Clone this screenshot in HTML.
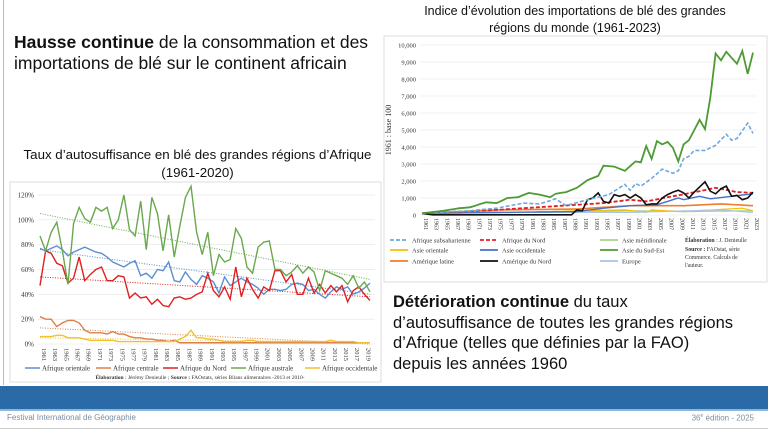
<!DOCTYPE html>
<html><head><meta charset="utf-8"><style>
body{margin:0;width:768px;height:431px;background:#fff;overflow:hidden;font-family:"Liberation Sans",sans-serif;position:relative}
.t{position:absolute;color:#111}
</style></head><body>
<div style="position:absolute;left:3px;top:0;width:1px;height:385px;background:#bbb"></div>
<div class="t" style="left:14px;top:32px;font-size:17.5px;line-height:20.5px">
<b>Hausse continue</b> de la consommation et des<br>importations de blé sur le continent africain</div>
<div class="t" style="left:10px;top:146px;width:375px;text-align:center;font-size:13.3px;line-height:18px">Taux d’autosuffisance en blé des grandes régions d’Afrique<br>(1961-2020)</div>
<div class="t" style="left:385px;top:3px;width:380px;text-align:center;font-size:12.5px;line-height:17px">Indice d’évolution des importations de blé des grandes<br>régions du monde (1961-2023)</div>
<div class="t" style="left:393px;top:292px;font-size:16.5px;line-height:20.7px"><b>Détérioration continue</b> du taux<br>d’autosuffisance de toutes les grandes régions<br>d’Afrique (telles que définies par la FAO)<br>depuis les années 1960</div>
<div style="position:absolute;left:0;top:386px;width:768px;height:23px;background:#2a6aa6;border-bottom:2px solid #8fb6d8"></div>
<div class="t" style="left:7px;top:413px;font-size:8px;color:#7a8ea4">Festival International de Géographie</div>
<div class="t" style="right:14px;top:413px;font-size:8px;color:#7a8ea4">36<sup style="font-size:5px">e</sup> édition - 2025</div>
<div style="position:absolute;left:0;top:428px;width:768px;height:1px;background:#ccc"></div>
<svg id="s" width="768" height="431" style="position:absolute;left:0;top:0" font-family="Liberation Serif, serif"></svg>
<script>
const s=document.getElementById('s');let h='';
h+='<rect x="10" y="182" width="371" height="200" fill="#fff" stroke="#ddd"/>';
const Y=v=>344-v*1.242, X=i=>40+i*(330/59);
for(let v=0;v<=120;v+=20){h+=`<line x1="38" x2="375" y1="${Y(v)}" y2="${Y(v)}" stroke="#e4e4e4" stroke-width="0.6"/><text x="34" y="${Y(v)+2.5}" font-size="7" text-anchor="end" fill="#333">${v}%</text>`}
for(let i=0;i<60;i+=2){h+=`<text transform="translate(${X(i)+2},348) rotate(90)" font-size="6.5" fill="#333">${1961+i}</text>`}
const L={
g:[87,75,90,98,75,48,97,110,101,98,110,107,110,93,100,120,92,87,115,76,118,105,75,104,70,95,118,127,90,72,90,55,72,66,68,93,85,62,57,78,82,83,60,60,55,58,63,57,62,58,43,59,57,55,53,48,55,45,50,42,55],
b:[77,75,77,79,76,71,74,76,78,76,74,73,70,66,64,62,65,67,55,57,53,60,59,66,51,50,58,52,48,55,53,50,41,54,47,50,53,50,48,45,40,44,44,43,44,48,49,48,43,44,40,37,42,46,44,46,40,42,45,49],
r:[47,75,73,65,63,49,53,70,51,56,60,62,51,51,55,54,37,41,37,38,32,36,31,30,37,38,36,37,40,42,57,43,38,46,36,62,38,53,44,37,46,43,59,59,50,56,40,40,53,41,48,41,47,42,47,34,43,46,40,35],
o:[22,20,20,14,17,19,19,17,11,9,9,9,8,10,8,8,6,5,5,4,4,3,3,2,3,1,1,1,1,1,1,1,1,1,1,1,1,1,1,1,1,1,1,1,1,1,1,1,1,1,1,1,1,1,1,1,1,1,1,1],
y:[6,6,6,7,7,5,5,5,4,3,3,3,3,3,2,2,2,2,2,2,2,2,2,2,2,4,6,11,5,5,4,4,3,2,2,2,2,3,3,2,2,2,2,2,2,2,2,2,2,2,2,2,3,2,2,2,2,1,1,1]};
const C={g:'#6aa84f',b:'#5b8fd0',r:'#e02020',o:'#d9804a',y:'#f2c12e'};
const tr={g:[105,52],b:[76,40],r:[54,38],o:[13,0],y:[5,1]};
for(const k in tr)h+=`<line x1="${X(0)}" x2="${X(59)}" y1="${Y(tr[k][0])}" y2="${Y(tr[k][1])}" stroke="${C[k]}" stroke-width="1" stroke-dasharray="1,1.5"/>`;
for(const k of ['o','y','b','r','g']){h+=`<polyline fill="none" stroke="${C[k]}" stroke-width="1.4" points="${L[k].slice(0,60).map((v,i)=>X(i)+','+Y(v)).join(' ')}"/>`}
const lg=[['b','Afrique orientale',25],['o','Afrique centrale',96],['r','Afrique du Nord',163],['g','Afrique australe',231],['y','Afrique occidentale',305]];
for(const [k,t,x] of lg)h+=`<line x1="${x}" x2="${x+15}" y1="368" y2="368" stroke="${C[k]}" stroke-width="1.5"/><text x="${x+17}" y="370.5" font-size="7" fill="#333">${t}</text>`;
h+='<text x="200" y="379" font-size="5.5" text-anchor="middle" fill="#333"><tspan font-weight="bold">Élaboration</tspan> : Jérémy Denieulle ; <tspan font-weight="bold">Source :</tspan> FAOstats, séries Bilans alimentaires -2013 et 2010-</text>';
h+='<rect x="384" y="36" width="383" height="246" fill="#fff" stroke="#ddd"/>';
const Y2=v=>215-v*0.017, X2=i=>422+i*(331/62);
for(let v=0;v<=10000;v+=1000){h+=`<line x1="420" x2="757" y1="${Y2(v)}" y2="${Y2(v)}" stroke="#e4e4e4" stroke-width="0.6"/><text x="416" y="${Y2(v)+2.5}" font-size="6.5" text-anchor="end" fill="#333">${v?v.toLocaleString('en-US'):0}</text>`}
h+='<text transform="translate(391,130) rotate(-90)" font-size="8" text-anchor="middle" fill="#333">1961 : base 100</text>';
for(let i=0;i<63;i+=2){h+=`<text transform="translate(${X2(i)+2},218) rotate(90)" font-size="6" fill="#333">${1961+i}</text>`}
function interp(keys){const a=[];const ks=Object.keys(keys).map(Number).sort((a,b)=>a-b);for(let y=1961;y<=2023;y++){let j=0;while(j<ks.length-1&&ks[j+1]<y)j++;const y0=ks[j],y1=ks[Math.min(j+1,ks.length-1)];const v0=keys[y0],v1=keys[y1];a.push(y1==y0?v0:v0+(v1-v0)*(y-y0)/(y1-y0));}return a;}
const R=[
['#a8d08d',1.2,'',{1961:100,1975:150,1990:200,2000:250,2010:200,2023:250}],
['#f5c000',1.2,'',{1961:100,1970:200,1980:150,1990:250,1999:300,2003:150,2004:300,2010:200,2021:400,2023:250}],
['#a9c4e8',1.2,'',{1961:100,1980:150,2000:150,2017:300,2023:150}],
['#ed7d31',1.6,'',{1961:100,1975:300,1990:350,2000:550,2010:550,2017:650,2023:550}],
['#4472c4',1.4,'',{1961:100,1990:200,1995:400,2000:550,2005:600,2009:1000,2010:900,2013:1100,2015:950,2019:1100,2023:1250}],
['#e02020',1.8,'4,2',{1961:100,1975:300,1985:500,1990:600,1995:700,2000:900,2003:800,2008:1100,2013:1400,2016:1600,2020:1350,2023:1300}],
['#111',1.6,'',{1961:100,1963:10,1989:10,1990:300,1991:250,1992:900,1993:1000,1994:1300,1995:800,1996:700,1997:1200,1998:1100,1999:1200,2000:1000,2001:1200,2002:1000,2003:600,2004:650,2005:650,2006:1000,2007:1200,2008:1350,2009:1450,2010:1300,2011:1000,2012:1350,2013:1650,2014:1950,2015:1400,2016:1250,2017:1550,2018:1700,2019:1100,2020:1150,2021:900,2022:1000,2023:1350}],
['#6fa8dc',1.6,'4,2',{1961:100,1970:250,1975:400,1980:700,1983:650,1986:950,1988:550,1992:900,1996:1200,1999:1800,2000:1450,2001:1850,2002:1700,2004:2150,2006:2700,2008:2450,2009:2600,2010:3300,2011:3450,2012:3800,2014:3800,2016:4100,2018:4750,2019:4400,2020:4500,2022:5400,2023:4800}],
['#4e9a35',1.8,'',{1961:100,1965:250,1968:400,1970:450,1973:750,1975:700,1977:1000,1979:1050,1981:1300,1983:1200,1985:1050,1986:1250,1988:1350,1990:1600,1992:2050,1994:2300,1995:2900,1997:2850,1999:2600,2001:3150,2002:3100,2003:4050,2004:3300,2005:4350,2006:4150,2007:4300,2008:3950,2009:3150,2010:4150,2011:4400,2012:5000,2013:5600,2014:5050,2015:6900,2016:9500,2017:9100,2018:9600,2019:9250,2020:8900,2021:9650,2022:8300,2023:9550}]];
for(const [c,w,d,k] of R){h+=`<polyline fill="none" stroke="${c}" stroke-width="${w}" ${d?'stroke-dasharray="'+d+'"':''} points="${interp(k).map((v,i)=>X2(i).toFixed(1)+','+Y2(v).toFixed(1)).join(' ')}"/>`}
const lg2=[['#6fa8dc','4,2','Afrique subsaharienne',390,240],['#e02020','4,2','Afrique du Nord',480,240],['#a8d08d','','Asie méridionale',600,240],
['#f5c000','','Asie orientale',390,250],['#4472c4','','Asie occidentale',480,250],['#4e9a35','','Asie du Sud-Est',600,250],
['#ed7d31','','Amérique latine',390,261],['#111','','Amérique du Nord',480,261],['#a9c4e8','','Europe',600,261]];
for(const [c,d,t,x,y] of lg2)h+=`<line x1="${x}" x2="${x+18}" y1="${y}" y2="${y}" stroke="${c}" stroke-width="1.8" ${d?'stroke-dasharray="'+d+'"':''}/><text x="${x+22}" y="${y+2.5}" font-size="6.5" fill="#333">${t}</text>`;
h+='<text x="685" y="242" font-size="5.8" fill="#333"><tspan font-weight="bold">Élaboration</tspan> : J. Denieulle</text><text x="685" y="251" font-size="5.8" fill="#333"><tspan font-weight="bold">Source :</tspan> FAOstat, série</text><text x="685" y="259" font-size="5.8" fill="#333">Commerce. Calculs de</text><text x="685" y="267" font-size="5.8" fill="#333">l\'auteur.</text>';
s.innerHTML=h;
</script>
</body></html>
